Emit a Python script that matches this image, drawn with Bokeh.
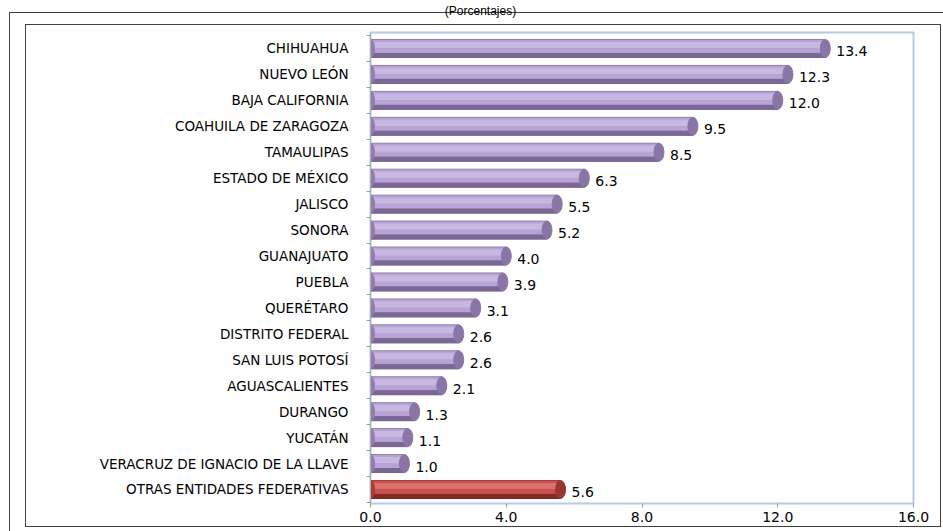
from bokeh.plotting import figure
from bokeh.models import (ColumnDataSource, Range1d, FixedTicker, LinearAxis,
                          PrintfTickFormatter, InlineStyleSheet)
from bokeh.transform import dodge
from bokeh.core.properties import value
from bokeh.embed import file_html
from bokeh.resources import INLINE

title_text = "(Porcentajes)"
states = ["CHIHUAHUA", "NUEVO LEÓN", "BAJA CALIFORNIA", "COAHUILA DE ZARAGOZA",
          "TAMAULIPAS", "ESTADO DE MÉXICO", "JALISCO", "SONORA", "GUANAJUATO",
          "PUEBLA", "QUERÉTARO", "DISTRITO FEDERAL", "SAN LUIS POTOSÍ",
          "AGUASCALIENTES", "DURANGO", "YUCATÁN", "VERACRUZ DE IGNACIO DE LA LLAVE",
          "OTRAS ENTIDADES FEDERATIVAS"]
shares = [13.4, 12.3, 12.0, 9.5, 8.5, 6.3, 5.5, 5.2, 4.0, 3.9, 3.1, 2.6, 2.6,
          2.1, 1.3, 1.1, 1.0, 5.6]
x_ticks = [0, 4, 8, 12, 16]

n = len(states)
pos = [n - 1 - i for i in range(n)]
is_other = [s.startswith("OTRAS") for s in states]

pal = {
    "base": ("#927eae", "#a53e3b"),
    "body": ("#b8a4d4", "#c9504c"),
    "hi": ("#c8b8e1", "#db706c"),
    "dark": ("#7a6794", "#832927"),
    "cap": ("#8a76a6", "#9a3532"),
}
data = dict(y=pos, v=shares, lab=[f"{s:.1f}" for s in shares], zero=[0] * n)
for k, (c1, c2) in pal.items():
    data[k] = [c2 if o else c1 for o in is_other]
src = ColumnDataSource(data)

W, H = 943, 531
FL, FR, FT, FB = 370, 913, 31, 503  # frame edges in canvas px
X0, X1 = 0, 16

# border lines drawn with CSS backgrounds (outside the plot frame)
lines = [  # (x, y, w, h)
    (9, 12, 934, 1), (9, 12, 1, 519),
    (25, 24, 916, 1), (25, 526, 916, 1), (25, 24, 1, 503), (940, 24, 1, 503),
]
bg = ", ".join(f"linear-gradient(#404040, #404040) {x}px {y}px / {w}px {h}px no-repeat"
               for x, y, w, h in lines)
css = InlineStyleSheet(css=f":host {{ background: {bg}, #ffffff; }}")

p = figure(width=W, height=H, output_backend="svg", toolbar_location=None,
           x_range=Range1d(X0, X1), y_range=Range1d(-0.54, n - 1 + 0.615),
           min_border_left=FL, min_border_right=W - FR, min_border_top=FT,
           min_border_bottom=H - FB, stylesheets=[css])
p.outline_line_color = "#b7cbe5"
p.outline_line_width = 2
p.xgrid.visible = False
p.ygrid.visible = False
p.background_fill_color = "white"
p.border_fill_color = None

# main axes
xax = p.below[0]
xax.ticker = FixedTicker(ticks=x_ticks)
xax.formatter = PrintfTickFormatter(format="%.1f")
xax.axis_line_color = None
xax.major_tick_out = 4
xax.major_tick_in = 0
xax.major_tick_line_color = "#9a9a9a"
xax.minor_tick_line_color = None
xax.major_label_standoff = 4
xax.major_label_text_font = "DejaVu Sans"
xax.major_label_text_font_size = "14px"
xax.major_label_text_color = "black"

yax = p.left[0]
yax.ticker = FixedTicker(ticks=pos, minor_ticks=[i - 0.5 for i in range(n + 1)])
yax.major_label_overrides = {pv: s for pv, s in zip(pos, states)}
yax.axis_line_color = "#b0b0b0"
yax.major_tick_line_color = None
yax.major_tick_out = 0
yax.major_tick_in = 0
yax.minor_tick_out = 4
yax.minor_tick_in = 0
yax.minor_tick_line_color = "#9a9a9a"
yax.major_label_standoff = 18
yax.major_label_text_font = "DejaVu Sans"
yax.major_label_text_font_size = "13.5px"
yax.major_label_text_color = "black"

# title as a single labelled tick on an axis above the frame
title_x = X0 + (X1 - X0) * (480 - FL) / (FR - FL)
tax = LinearAxis(ticker=FixedTicker(ticks=[title_x]),
                 major_label_overrides={title_x: title_text},
                 axis_line_color=None, major_tick_line_color=None,
                 minor_tick_line_color=None, major_tick_out=0, major_tick_in=0,
                 major_label_standoff=15, major_label_text_font="Liberation Sans",
                 major_label_text_font_size="12px", major_label_text_color="black")
p.add_layout(tax, "above")

U = 26.0  # px per row
def off(px):
    return -px / U

# bar layers
p.hbar(y="y", left="zero", right="v", height=18 / U, color="base", source=src)
p.hbar(y=dodge("y", off(-2), range=p.y_range), left="zero", right="v",
       height=12 / U, color="body", source=src)
p.hbar(y=dodge("y", off(-3.5), range=p.y_range), left="zero", right="v",
       height=5 / U, color="hi", source=src)
p.hbar(y=dodge("y", off(7), range=p.y_range), left="zero", right="v",
       height=4 / U, color="dark", source=src)
p.ellipse(x="zero", y="y", width=8, height=18, width_units="screen",
          height_units="screen", color="base", source=src)
p.ellipse(x="v", y="y", width=10, height=18, width_units="screen",
          height_units="screen", color="cap", source=src)

p.text(x="v", y="y", text="lab", x_offset=11, y_offset=3, text_align="left",
       text_baseline="middle", text_font=value("DejaVu Sans"),
       text_font_size="14px", text_color="black", source=src)

open("out.html", "w").write(file_html(p, INLINE))
